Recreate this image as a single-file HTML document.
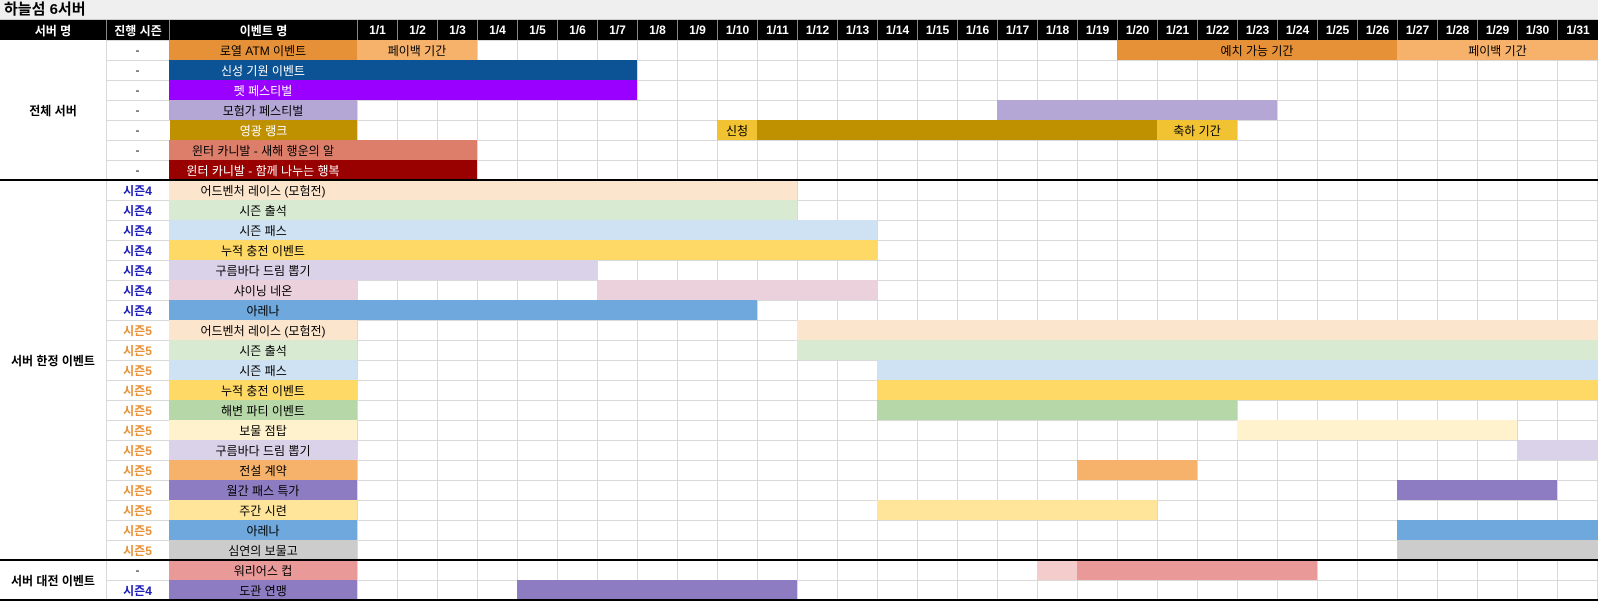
<!DOCTYPE html>
<html><head><meta charset="utf-8"><style>
*{margin:0;padding:0;box-sizing:border-box}
body{width:1598px;height:601px;background:#fff;position:relative;overflow:hidden;font-family:"Liberation Sans","Noto Sans CJK KR","NanumGothic",sans-serif;font-size:12px;color:#000}
.a{position:absolute}
.b{position:absolute;height:20px;display:flex;align-items:center;justify-content:center;white-space:nowrap;font-size:12px}
.h{position:absolute;top:20px;height:20px;display:flex;align-items:center;justify-content:center;color:#fff;font-weight:bold;font-size:12px;border-left:1px solid #888}
.s{position:absolute;left:106px;width:63px;height:20px;display:flex;align-items:center;justify-content:center;font-weight:bold;font-size:12px}
.s4{color:#1c1cb8}.s5{color:#e69138}
.w{color:#fff}
</style></head><body>
<div class="a" style="left:0;top:0;width:1598px;height:20px;background:#efefef;border-bottom:1px solid #ccc"></div>
<div class="a" style="left:4px;top:1px;font-size:15px;font-weight:bold;line-height:18px">하늘섬 6서버</div>
<div class="a" style="left:0;top:20px;width:1598px;height:20px;background:#000"></div>
<div class="h" style="left:0;width:106px;border-left:none">서버 명</div>
<div class="h" style="left:106px;width:63px">진행 시즌</div>
<div class="h" style="left:169px;width:188px">이벤트 명</div>
<div class="h" style="left:357px;width:40px">1/1</div><div class="h" style="left:397px;width:40px">1/2</div><div class="h" style="left:437px;width:40px">1/3</div><div class="h" style="left:477px;width:40px">1/4</div><div class="h" style="left:517px;width:40px">1/5</div><div class="h" style="left:557px;width:40px">1/6</div><div class="h" style="left:597px;width:40px">1/7</div><div class="h" style="left:637px;width:40px">1/8</div><div class="h" style="left:677px;width:40px">1/9</div><div class="h" style="left:717px;width:40px">1/10</div><div class="h" style="left:757px;width:40px">1/11</div><div class="h" style="left:797px;width:40px">1/12</div><div class="h" style="left:837px;width:40px">1/13</div><div class="h" style="left:877px;width:40px">1/14</div><div class="h" style="left:917px;width:40px">1/15</div><div class="h" style="left:957px;width:40px">1/16</div><div class="h" style="left:997px;width:40px">1/17</div><div class="h" style="left:1037px;width:40px">1/18</div><div class="h" style="left:1077px;width:40px">1/19</div><div class="h" style="left:1117px;width:40px">1/20</div><div class="h" style="left:1157px;width:40px">1/21</div><div class="h" style="left:1197px;width:40px">1/22</div><div class="h" style="left:1237px;width:40px">1/23</div><div class="h" style="left:1277px;width:40px">1/24</div><div class="h" style="left:1317px;width:40px">1/25</div><div class="h" style="left:1357px;width:40px">1/26</div><div class="h" style="left:1397px;width:40px">1/27</div><div class="h" style="left:1437px;width:40px">1/28</div><div class="h" style="left:1477px;width:40px">1/29</div><div class="h" style="left:1517px;width:40px">1/30</div><div class="h" style="left:1557px;width:41px">1/31</div>

<!-- grid -->
<div class="a" style="left:357px;top:40px;width:1241px;height:560px;background-image:linear-gradient(to right,#d9d9d9 1px,transparent 1px),linear-gradient(to bottom,#d9d9d9 1px,transparent 1px);background-size:40px 20px"></div>
<div class="a" style="left:106px;top:40px;width:251px;height:560px;border-left:1px solid #d9d9d9;background-image:linear-gradient(to bottom,#d9d9d9 1px,transparent 1px);background-size:20px 20px"></div>

<!-- section labels -->
<div class="b" style="left:0;top:100px;width:106px;font-weight:bold">전체 서버</div>
<div class="b" style="left:0;top:350px;width:106px;font-weight:bold">서버 한정 이벤트</div>
<div class="b" style="left:0;top:560px;width:106px;height:40px;font-weight:bold">서버 대전 이벤트</div>

<!-- seasons -->
<div class="s" style="top:40px;font-weight:normal">-</div><div class="s" style="top:60px;font-weight:normal">-</div><div class="s" style="top:80px;font-weight:normal">-</div><div class="s" style="top:100px;font-weight:normal">-</div><div class="s" style="top:120px;font-weight:normal">-</div><div class="s" style="top:140px;font-weight:normal">-</div><div class="s" style="top:160px;font-weight:normal">-</div>
<div class="s s4" style="top:180px">시즌4</div><div class="s s4" style="top:200px">시즌4</div><div class="s s4" style="top:220px">시즌4</div><div class="s s4" style="top:240px">시즌4</div><div class="s s4" style="top:260px">시즌4</div><div class="s s4" style="top:280px">시즌4</div><div class="s s4" style="top:300px">시즌4</div>
<div class="s s5" style="top:320px">시즌5</div><div class="s s5" style="top:340px">시즌5</div><div class="s s5" style="top:360px">시즌5</div><div class="s s5" style="top:380px">시즌5</div><div class="s s5" style="top:400px">시즌5</div><div class="s s5" style="top:420px">시즌5</div><div class="s s5" style="top:440px">시즌5</div><div class="s s5" style="top:460px">시즌5</div><div class="s s5" style="top:480px">시즌5</div><div class="s s5" style="top:500px">시즌5</div><div class="s s5" style="top:520px">시즌5</div><div class="s s5" style="top:540px">시즌5</div>
<div class="s" style="top:560px;font-weight:normal">-</div><div class="s s4" style="top:580px">시즌4</div>

<!-- rows -->
<div class="b" style="left:169px;top:40px;width:188px;background:#e69138">로열 ATM 이벤트</div>
<div class="b" style="left:357px;top:40px;width:120px;background:#f6b26b">페이백 기간</div>
<div class="b" style="left:1117px;top:40px;width:280px;background:#e69138">예치 가능 기간</div>
<div class="b" style="left:1397px;top:40px;width:201px;background:#f6b26b">페이백 기간</div>

<div class="b" style="left:357px;top:60px;width:280px;background:#0b5394"></div>
<div class="b w" style="left:169px;top:60px;width:188px;background:#0b5394">신성 기원 이벤트</div>
<div class="b" style="left:357px;top:80px;width:280px;background:#9900ff"></div>
<div class="b w" style="left:169px;top:80px;width:188px;background:#9900ff">펫 페스티벌</div>
<div class="b" style="left:169px;top:100px;width:188px;background:#b4a7d6">모험가 페스티벌</div>
<div class="b" style="left:997px;top:100px;width:280px;background:#b4a7d6"></div>
<div class="b w" style="left:170px;top:120px;width:187px;background:#bf9000">영광 랭크</div>
<div class="b" style="left:717px;top:120px;width:40px;background:#f1c232">신청</div>
<div class="b" style="left:757px;top:120px;width:400px;background:#bf9000"></div>
<div class="b" style="left:1157px;top:120px;width:80px;background:#f1c232">축하 기간</div>
<div class="b" style="left:357px;top:140px;width:120px;background:#dd7e6b"></div>
<div class="b" style="left:169px;top:140px;width:188px;background:#dd7e6b">윈터 카니발 - 새해 행운의 알</div>
<div class="b" style="left:357px;top:160px;width:120px;background:#990000"></div>
<div class="b w" style="left:169px;top:160px;width:188px;background:#990000">윈터 카니발 - 함께 나누는 행복</div>

<div class="b" style="left:357px;top:180px;width:440px;background:#fce5cd"></div>
<div class="b" style="left:169px;top:180px;width:188px;background:#fce5cd">어드벤처 레이스 (모험전)</div>
<div class="b" style="left:357px;top:200px;width:440px;background:#d9ead3"></div>
<div class="b" style="left:169px;top:200px;width:188px;background:#d9ead3">시즌 출석</div>
<div class="b" style="left:357px;top:220px;width:520px;background:#cfe2f3"></div>
<div class="b" style="left:169px;top:220px;width:188px;background:#cfe2f3">시즌 패스</div>
<div class="b" style="left:357px;top:240px;width:520px;background:#ffd966"></div>
<div class="b" style="left:169px;top:240px;width:188px;background:#ffd966">누적 충전 이벤트</div>
<div class="b" style="left:357px;top:260px;width:240px;background:#d9d2e9"></div>
<div class="b" style="left:169px;top:260px;width:188px;background:#d9d2e9">구름바다 드림 뽑기</div>
<div class="b" style="left:169px;top:280px;width:188px;background:#ead1dc">샤이닝 네온</div>
<div class="b" style="left:597px;top:280px;width:280px;background:#ead1dc"></div>
<div class="b" style="left:357px;top:300px;width:400px;background:#6fa8dc"></div>
<div class="b" style="left:169px;top:300px;width:188px;background:#6fa8dc">아레나</div>

<div class="b" style="left:169px;top:320px;width:188px;background:#fce5cd">어드벤처 레이스 (모험전)</div>
<div class="b" style="left:797px;top:320px;width:801px;background:#fce5cd"></div>
<div class="b" style="left:169px;top:340px;width:188px;background:#d9ead3">시즌 출석</div>
<div class="b" style="left:797px;top:340px;width:801px;background:#d9ead3"></div>
<div class="b" style="left:169px;top:360px;width:188px;background:#cfe2f3">시즌 패스</div>
<div class="b" style="left:877px;top:360px;width:721px;background:#cfe2f3"></div>
<div class="b" style="left:169px;top:380px;width:188px;background:#ffd966">누적 충전 이벤트</div>
<div class="b" style="left:877px;top:380px;width:721px;background:#ffd966"></div>
<div class="b" style="left:169px;top:400px;width:188px;background:#b6d7a8">해변 파티 이벤트</div>
<div class="b" style="left:877px;top:400px;width:360px;background:#b6d7a8"></div>
<div class="b" style="left:169px;top:420px;width:188px;background:#fff2cc">보물 점탑</div>
<div class="b" style="left:1237px;top:420px;width:280px;background:#fff2cc"></div>
<div class="b" style="left:169px;top:440px;width:188px;background:#d9d2e9">구름바다 드림 뽑기</div>
<div class="b" style="left:1517px;top:440px;width:81px;background:#d9d2e9"></div>
<div class="b" style="left:169px;top:460px;width:188px;background:#f6b26b">전설 계약</div>
<div class="b" style="left:1077px;top:460px;width:120px;background:#f6b26b"></div>
<div class="b" style="left:169px;top:480px;width:188px;background:#8e7cc3">월간 패스 특가</div>
<div class="b" style="left:1397px;top:480px;width:160px;background:#8e7cc3"></div>
<div class="b" style="left:169px;top:500px;width:188px;background:#ffe599">주간 시련</div>
<div class="b" style="left:877px;top:500px;width:280px;background:#ffe599"></div>
<div class="b" style="left:169px;top:520px;width:188px;background:#6fa8dc">아레나</div>
<div class="b" style="left:1397px;top:520px;width:201px;background:#6fa8dc"></div>
<div class="b" style="left:169px;top:540px;width:188px;background:#cccccc">심연의 보물고</div>
<div class="b" style="left:1397px;top:540px;width:201px;background:#cccccc"></div>

<div class="b" style="left:169px;top:560px;width:188px;background:#ea9999">워리어스 컵</div>
<div class="b" style="left:1037px;top:560px;width:40px;background:#f4cccc"></div>
<div class="b" style="left:1077px;top:560px;width:240px;background:#ea9999"></div>
<div class="b" style="left:169px;top:580px;width:188px;background:#8e7cc3">도관 연맹</div>
<div class="b" style="left:517px;top:580px;width:280px;background:#8e7cc3"></div>

<!-- separators -->
<div class="a" style="left:0;top:179px;width:1598px;height:2px;background:#000"></div>
<div class="a" style="left:0;top:559px;width:1598px;height:2px;background:#000"></div>
<div class="a" style="left:0;top:599px;width:1598px;height:2px;background:#000"></div>
</body></html>
